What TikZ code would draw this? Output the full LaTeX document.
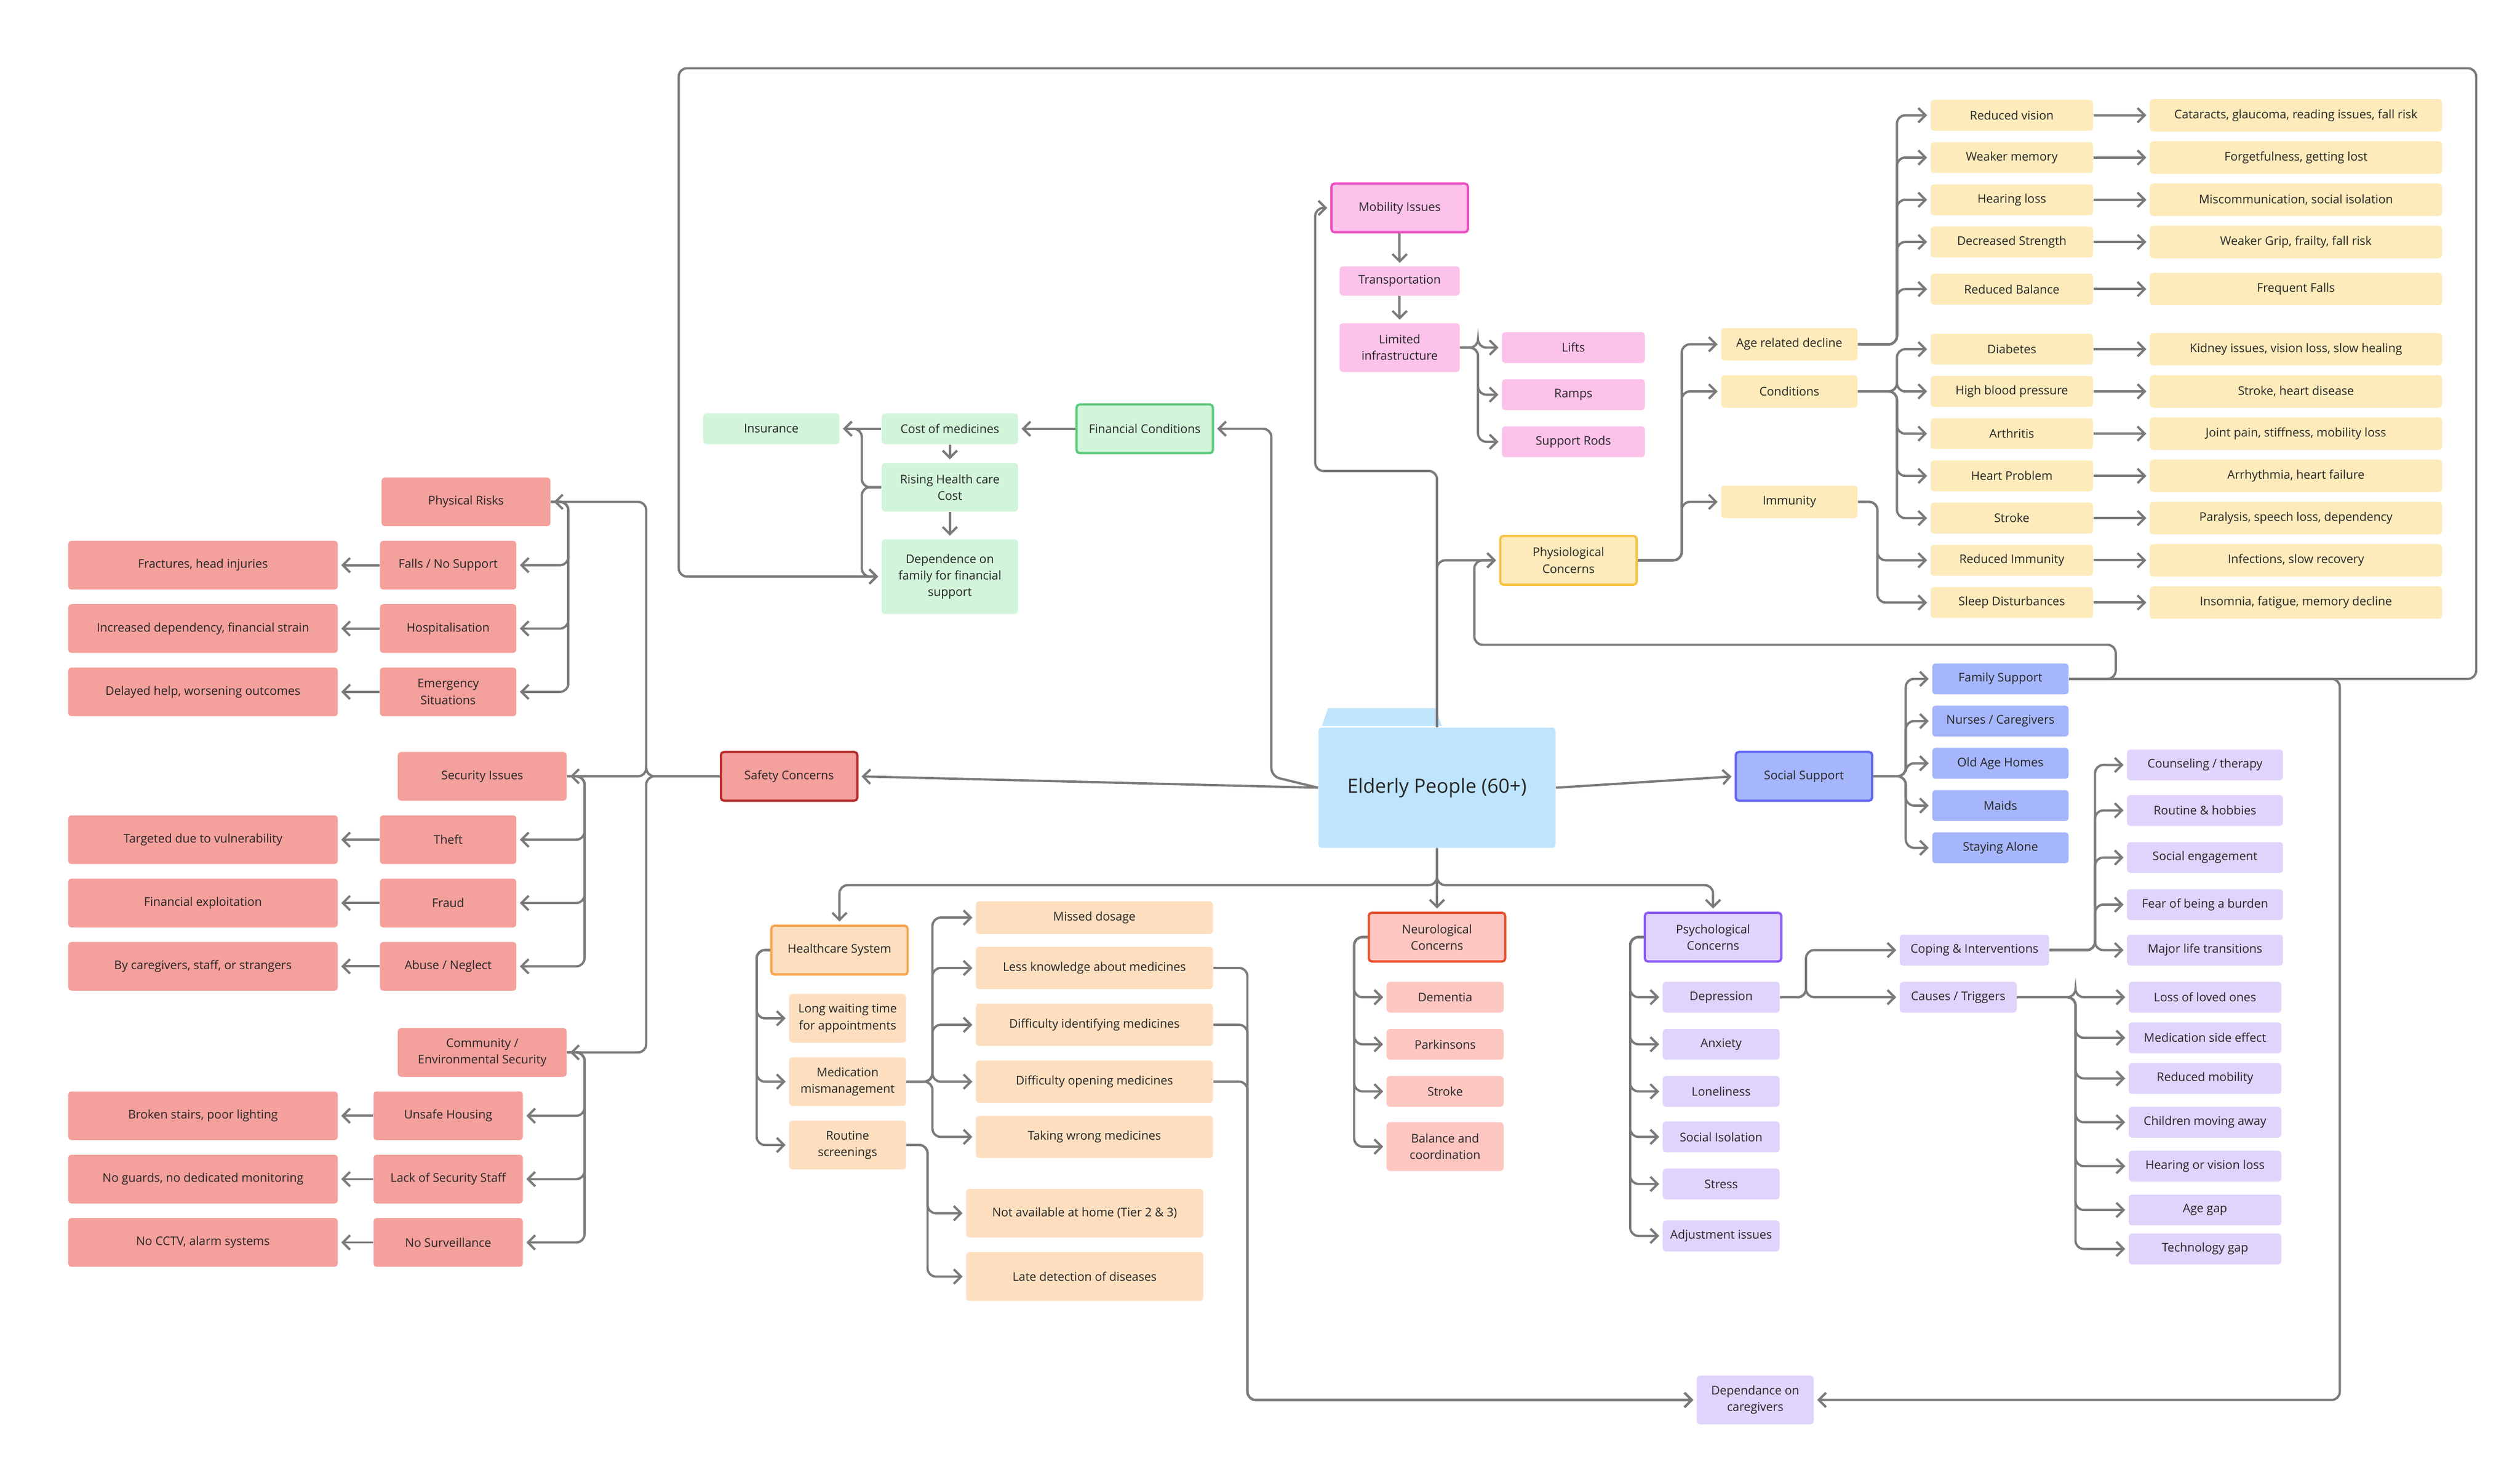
\documentclass[tikz,border=0pt]{standalone}
\usepackage{fontspec}
\setmainfont{Open Sans}
\usetikzlibrary{arrows.meta}
\def\UU{0.02772cm}
\definecolor{ln}{HTML}{7A7A7A}
\definecolor{yf}{HTML}{FDEBBB}\definecolor{yb}{HTML}{F6C343}
\definecolor{pf}{HTML}{FDC2EA}\definecolor{pb}{HTML}{E94FC0}
\definecolor{gf}{HTML}{D2F5DA}\definecolor{gb}{HTML}{5CCB7A}
\definecolor{rf}{HTML}{F4A09C}\definecolor{rb}{HTML}{B52A2A}
\definecolor{of}{HTML}{FDDFC0}\definecolor{ob}{HTML}{F7A44E}
\definecolor{nf}{HTML}{FDC6C1}\definecolor{nb}{HTML}{E8502E}
\definecolor{vf}{HTML}{E0D4FC}\definecolor{vb}{HTML}{8B5CF6}
\definecolor{bf}{HTML}{A6B6FC}\definecolor{bb}{HTML}{6366F1}
\definecolor{cf}{HTML}{BFE5FD}
\tikzset{
 bx/.style n args={3}{draw=none,fill=#1,rounded corners=1.5pt,inner sep=1pt,align=center,
   minimum width=#2*\UU,minimum height=#3*\UU,font=\fontsize{5.8}{8}\selectfont,text=black!85},
 mn/.style n args={4}{bx={#1}{#3}{#4},draw=#2,line width=1.1pt},
 Y/.style 2 args={bx={yf}{#1}{#2}}, P/.style 2 args={bx={pf}{#1}{#2}},
 G/.style 2 args={bx={gf}{#1}{#2}}, R/.style 2 args={bx={rf}{#1}{#2}},
 O/.style 2 args={bx={of}{#1}{#2}}, N/.style 2 args={bx={nf}{#1}{#2}},
 V/.style 2 args={bx={vf}{#1}{#2}}, B/.style 2 args={bx={bf}{#1}{#2}},
 conn/.style={draw=ln,line width=1.1pt,rounded corners=4pt,-{Straight Barb[length=3.5pt,width=7pt]},shorten >=1.5pt},
 pl/.style={draw=ln,line width=1.1pt,rounded corners=4pt}
}
\newcommand\elb[3]{\draw[conn] (#1.east) -- ++(#3,0) |- (#2.west);}
\newcommand\elbl[3]{\draw[conn] (#1.west) -- ++(-#3,0) |- (#2.east);}
\newcommand\str[2]{\draw[conn] (#1) -- (#2);}
\begin{document}
\begin{tikzpicture}[x=\UU,y=-\UU]
\useasboundingbox[fill=white] (0,0) rectangle (1552,911);
% ---------- central
\fill[cf] (814,447) -- (818,436) -- (884,436) -- (888,447) -- cycle;
\node[bx={cf}{146}{74},font=\fontsize{9.5}{11}\selectfont] (c) at (885,485) {Elderly People (60+)};
% ---------- physiological
\node[mn={yf}{yb}{84}{30}] (phys) at (966,345) {Physiological\\Concerns};
\node[Y={84}{20}] (age) at (1102,212) {Age related decline};
\node[Y={84}{20}] (cond) at (1102,241) {Conditions};
\node[Y={84}{20}] (imm) at (1102,309) {Immunity};
\foreach \n/\t/\r/\yy in {a1/{Reduced vision}/{Cataracts, glaucoma, reading issues, fall risk}/71,
 a2/{Weaker memory}/{Forgetfulness, getting lost}/97,
 a3/{Hearing loss}/{Miscommunication, social isolation}/123,
 a4/{Decreased Strength}/{Weaker Grip, frailty, fall risk}/149,
 a5/{Reduced Balance}/{Frequent Falls}/178,
 b1/{Diabetes}/{Kidney issues, vision loss, slow healing}/215,
 b2/{High blood pressure}/{Stroke, heart disease}/241,
 b3/{Arthritis}/{Joint pain, stiffness, mobility loss}/267,
 b4/{Heart Problem}/{Arrhythmia, heart failure}/293,
 b5/{Stroke}/{Paralysis, speech loss, dependency}/319,
 i1/{Reduced Immunity}/{Infections, slow recovery}/345,
 i2/{Sleep Disturbances}/{Insomnia, fatigue, memory decline}/371}{
 \node[Y={100}{19}] (\n) at (1239,\yy) {\t};
 \node[Y={180}{20}] (\n r) at (1414,\yy) {\r};
 \draw[conn] (\n.east) -- (\n r.west);
}
\elb{phys}{age}{27}\elb{phys}{cond}{27}\elb{phys}{imm}{27}
\foreach \n in {a1,a2,a3,a4,a5}{\elb{age}{\n}{24}}
\foreach \n in {b1,b2,b3,b4,b5}{\elb{cond}{\n}{24}}
\foreach \n in {i1,i2}{\elb{imm}{\n}{12}}
% ---------- mobility
\node[mn={pf}{pb}{84}{30}] (mob) at (862,128) {Mobility Issues};
\node[P={74}{18}] (trans) at (862,173) {Transportation};
\node[P={74}{30}] (lim) at (862,214) {Limited\\infrastructure};
\node[P={88}{19}] (lifts) at (969,214) {Lifts};
\node[P={88}{19}] (ramps) at (969,243) {Ramps};
\node[P={88}{19}] (rods) at (969,272) {Support Rods};
\str{mob}{trans}\str{trans}{lim}
\elb{lim}{lifts}{11}\elb{lim}{ramps}{11}\elb{lim}{rods}{11}
% ---------- financial
\node[mn={gf}{gb}{84}{30}] (fin) at (705,264) {Financial Conditions};
\node[G={84}{19}] (cost) at (585,264) {Cost of medicines};
\node[G={84}{19}] (ins) at (475,264) {Insurance};
\node[G={84}{30}] (rise) at (585,300) {Rising Health care\\Cost};
\node[G={84}{46}] (depf) at (585,355) {Dependence on\\family for financial\\support};
\str{fin.west}{cost.east}\str{cost.west}{ins.east}
\str{cost.south}{rise.north}\str{rise.south}{depf.north}
\elbl{rise}{ins}{12}
\draw[conn] (rise.west) -- ++(-12,0) |- (depf.west);
% ---------- social
\node[mn={bf}{bb}{84}{30}] (soc) at (1111,478) {Social Support};
\node[B={84}{19}] (fam) at (1232,418) {Family Support};
\node[B={84}{19}] (nur) at (1232,444) {Nurses / Caregivers};
\node[B={84}{19}] (old) at (1232,470) {Old Age Homes};
\node[B={84}{19}] (maid) at (1232,496) {Maids};
\node[B={84}{19}] (alone) at (1232,522) {Staying Alone};
\foreach \n in {fam,nur,old,maid,alone}{\elb{soc}{\n}{20}}
\node[V={72}{30}] (care) at (1081,862) {Dependance on\\caregivers};
% frame & long links
\draw[conn] (fam.east) -- (1525,418) -- (1525,42) -- (418,42) |- (depf.west);
\draw[conn] (fam.east) -- (1303,418) -- (1303,397) -- (908,397) |- (phys.west);
\draw[conn] (fam.east) -- (1441,418) |- (care.east);
% ---------- central links
\draw[conn] (c.east) -- (soc.west);
\node[mn={rf}{rb}{84}{30}] (saf) at (486,478) {Safety Concerns};
\draw[conn] (c.west) -- (saf.east);
\draw[conn] (c.west) -- (783,478) |- (fin.east);
\draw[conn] (c.north) -- (885,290) -- (810,290) |- (mob.west);
\draw[conn] (c.north) |- (phys.west);
% ---------- safety
\node[R={104}{30}] (pr) at (287,309) {Physical Risks};
\node[R={84}{30}] (falls) at (276,348) {Falls / No Support};
\node[R={84}{30}] (hosp) at (276,387) {Hospitalisation};
\node[R={84}{30}] (emer) at (276,426) {Emergency\\Situations};
\node[R={166}{30}] (frac) at (125,348) {Fractures, head injuries};
\node[R={166}{30}] (incr) at (125,387) {Increased dependency, financial strain};
\node[R={166}{30}] (dela) at (125,426) {Delayed help, worsening outcomes};
\node[R={104}{30}] (sec) at (297,478) {Security Issues};
\node[R={84}{30}] (theft) at (276,517) {Theft};
\node[R={84}{30}] (fraud) at (276,556) {Fraud};
\node[R={84}{30}] (abuse) at (276,595) {Abuse / Neglect};
\node[R={166}{30}] (targ) at (125,517) {Targeted due to vulnerability};
\node[R={166}{30}] (fexp) at (125,556) {Financial exploitation};
\node[R={166}{30}] (bycg) at (125,595) {By caregivers, staff, or strangers};
\node[R={104}{30}] (comm) at (297,648) {Community /\\Environmental Security};
\node[R={92}{30}] (hous) at (276,687) {Unsafe Housing};
\node[R={92}{30}] (staff) at (276,726) {Lack of Security Staff};
\node[R={92}{30}] (surv) at (276,765) {No Surveillance};
\node[R={166}{30}] (brok) at (125,687) {Broken stairs, poor lighting};
\node[R={166}{30}] (guard) at (125,726) {No guards, no dedicated monitoring};
\node[R={166}{30}] (cctv) at (125,765) {No CCTV, alarm systems};
\foreach \n in {pr,sec,comm}{\draw[conn] (saf.west) -- (398,478) |- (\n.east);}
\foreach \n in {falls,hosp,emer}{\draw[conn] (pr.east) -- (350,309) |- (\n.east);}
\foreach \n in {theft,fraud,abuse}{\draw[conn] (sec.east) -- (360,478) |- (\n.east);}
\foreach \n in {hous,staff,surv}{\draw[conn] (comm.east) -- (360,648) |- (\n.east);}
\foreach \a/\b in {falls/frac,hosp/incr,emer/dela,theft/targ,fraud/fexp,abuse/bycg,hous/brok,staff/guard,surv/cctv}{\draw[conn] (\a.west) -- (\b.east);}
% ---------- healthcare
\node[mn={of}{ob}{84}{30}] (hc) at (517,585) {Healthcare System};
\node[O={72}{30}] (wait) at (522,627) {Long waiting time\\for appointments};
\node[O={72}{30}] (med) at (522,666) {Medication\\mismanagement};
\node[O={72}{30}] (rout) at (522,705) {Routine\\screenings};
\node[O={146}{20}] (miss) at (674,565) {Missed dosage};
\node[O={146}{26}] (less) at (674,596) {Less knowledge about medicines};
\node[O={146}{26}] (ident) at (674,631) {Difficulty identifying medicines};
\node[O={146}{26}] (open) at (674,666) {Difficulty opening medicines};
\node[O={146}{26}] (wrong) at (674,700) {Taking wrong medicines};
\node[O={146}{30}] (navl) at (668,747) {Not available at home (Tier 2 \& 3)};
\node[O={146}{30}] (late) at (668,786) {Late detection of diseases};
\foreach \n in {wait,med,rout}{\draw[conn] (hc.west) -- (466,585) |- (\n.west);}
\foreach \n in {miss,less,ident,open,wrong}{\elb{med}{\n}{16}}
\elb{rout}{navl}{13}\elb{rout}{late}{13}
\foreach \n in {less,ident,open}{\draw[conn] (\n.east) -- ++(21,0) |- (care.west);}
% ---------- neuro
\node[mn={nf}{nb}{84}{30}] (neu) at (885,577) {Neurological\\Concerns};
\node[N={72}{19}] (dem) at (890,614) {Dementia};
\node[N={72}{19}] (park) at (890,643) {Parkinsons};
\node[N={72}{19}] (nstr) at (890,672) {Stroke};
\node[N={72}{30}] (bal) at (890,706) {Balance and\\coordination};
\foreach \n in {dem,park,nstr,bal}{\draw[conn] (neu.west) -- (834,577) |- (\n.west);}
% ---------- psych
\node[mn={vf}{vb}{84}{30}] (psy) at (1055,577) {Psychological\\Concerns};
\node[V={72}{19}] (depr) at (1060,614) {Depression};
\node[V={72}{19}] (anx) at (1060,643) {Anxiety};
\node[V={72}{19}] (lone) at (1060,672) {Loneliness};
\node[V={72}{19}] (siso) at (1060,700) {Social Isolation};
\node[V={72}{19}] (stre) at (1060,729) {Stress};
\node[V={72}{19}] (adj) at (1060,761) {Adjustment issues};
\foreach \n in {depr,anx,lone,siso,stre,adj}{\draw[conn] (psy.west) -- (1004,577) |- (\n.west);}
\node[V={92}{19}] (cop) at (1216,585) {Coping \& Interventions};
\node[V={72}{19}] (cau) at (1206,614) {Causes / Triggers};
\elb{depr}{cop}{16}\elb{depr}{cau}{16}
\foreach \n/\t/\yy in {k1/{Counseling / therapy}/471,k2/{Routine \& hobbies}/499,k3/{Social engagement}/528,k4/{Fear of being a burden}/557,k5/{Major life transitions}/585}{
 \node[V={96}{19}] (\n) at (1358,\yy) {\t}; \elb{cop}{\n}{28}}
\foreach \n/\t/\yy in {t1/{Loss of loved ones}/614,t2/{Medication side effect}/639,t3/{Reduced mobility}/664,t4/{Children moving away}/691,t5/{Hearing or vision loss}/718,t6/{Age gap}/745,t7/{Technology gap}/769}{
 \node[V={94}{19}] (\n) at (1358,\yy) {\t}; \elb{cau}{\n}{36}}
% bottom from central
\draw[conn] (c.south) -- (885,545) -| (hc.north);
\draw[conn] (c.south) -- (neu.north);
\draw[conn] (c.south) -- (885,545) -| (psy.north);
\end{tikzpicture}
\end{document}
